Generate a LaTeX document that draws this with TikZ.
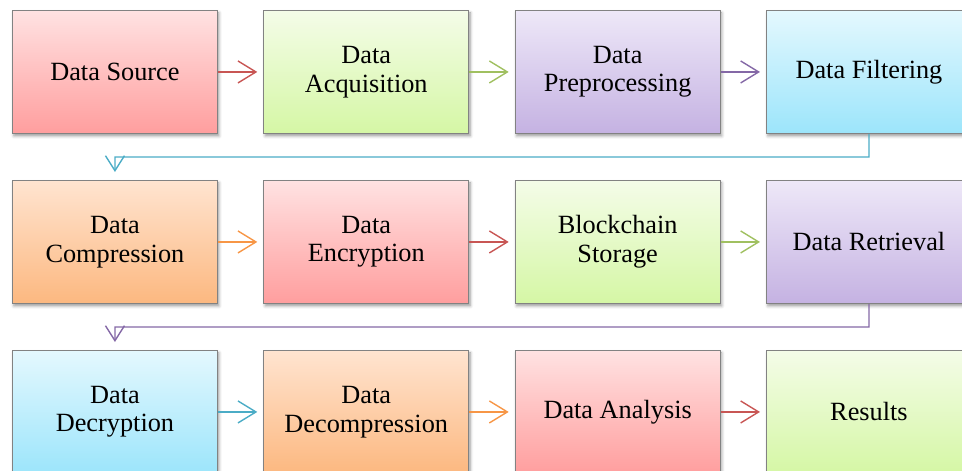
\documentclass[tikz,border=0pt]{standalone}
\usepackage{fontspec}
\setmainfont{Liberation Serif}
\usetikzlibrary{arrows.meta,shadows.blur,calc}

% gradient pairs (top / bottom) for the box fills
\definecolor{redT}{RGB}{255,226,226}   \definecolor{redB}{RGB}{255,158,158}
\definecolor{grnT}{RGB}{244,252,232}   \definecolor{grnB}{RGB}{213,247,165}
\definecolor{purT}{RGB}{238,232,248}   \definecolor{purB}{RGB}{197,178,226}
\definecolor{bluT}{RGB}{228,248,254}   \definecolor{bluB}{RGB}{156,229,251}
\definecolor{orgT}{RGB}{255,228,208}   \definecolor{orgB}{RGB}{252,184,128}
% connector colours
\definecolor{redA}{RGB}{200,86,84}
\definecolor{grnA}{RGB}{160,192,96}
\definecolor{purA}{RGB}{132,104,166}
\definecolor{bluA}{RGB}{75,172,198}
\definecolor{orgA}{RGB}{247,150,70}
\definecolor{boxline}{RGB}{130,130,130}

\begin{document}
\begin{tikzpicture}[x=1pt,y=1pt,
  box/.style={draw=boxline, line width=0.9pt, minimum width=205pt,
    minimum height=123pt, anchor=north west, inner sep=0pt, align=center,
    font=\fontsize{26.3}{28.5}\selectfont,
    blur shadow={shadow xshift=1.5pt, shadow yshift=-2.5pt,
      shadow blur radius=3pt, shadow opacity=40}},
  redbox/.style={box, top color=redT, bottom color=redB},
  grnbox/.style={box, top color=grnT, bottom color=grnB},
  purbox/.style={box, top color=purT, bottom color=purB},
  blubox/.style={box, top color=bluT, bottom color=bluB},
  orgbox/.style={box, top color=orgT, bottom color=orgB},
  link/.style={line width=1.4pt, -{Straight Barb[length=18pt,width=22pt]},
    shorten >=6pt},
  wrap/.style={line width=1.4pt, -{Straight Barb[length=15pt,width=19pt]},
    shorten >=8pt}
]
\useasboundingbox (0,0) rectangle (962,-471);

% row 1
\node[redbox] (src) at (12,-10)    {Data Source};
\node[grnbox] (acq) at (263.3,-10) {Data\\Acquisition};
\node[purbox] (pre) at (514.7,-10) {Data\\Preprocessing};
\node[blubox] (fil) at (766,-10)   {Data Filtering};
% row 2
\node[orgbox] (cmp) at (12,-180)    {Data\\Compression};
\node[redbox] (enc) at (263.3,-180) {Data\\Encryption};
\node[grnbox] (sto) at (514.7,-180) {Blockchain\\Storage};
\node[purbox] (ret) at (766,-180)   {Data Retrieval};
% row 3
\node[blubox] (dec) at (12,-350)    {Data\\Decryption};
\node[orgbox] (dcm) at (263.3,-350) {Data\\Decompression};
\node[redbox] (ana) at (514.7,-350) {Data Analysis};
\node[grnbox] (res) at (766,-350)   {Results};

% connectors within each row
\draw[link, redA] (src) -- (acq);
\draw[link, grnA] (acq) -- (pre);
\draw[link, purA] (pre) -- (fil);
\draw[link, orgA] (cmp) -- (enc);
\draw[link, redA] (enc) -- (sto);
\draw[link, grnA] (sto) -- (ret);
\draw[link, bluA] (dec) -- (dcm);
\draw[link, orgA] (dcm) -- (ana);
\draw[link, redA] (ana) -- (res);

% connectors wrapping to the next row
\coordinate (m1) at ($(fil.south)!0.5!(fil.south |- cmp.north)$);
\draw[wrap, bluA] (fil.south) -- (m1) -| (cmp.north);
\coordinate (m2) at ($(ret.south)!0.5!(ret.south |- dec.north)$);
\draw[wrap, purA] (ret.south) -- (m2) -| (dec.north);
\end{tikzpicture}
\end{document}
